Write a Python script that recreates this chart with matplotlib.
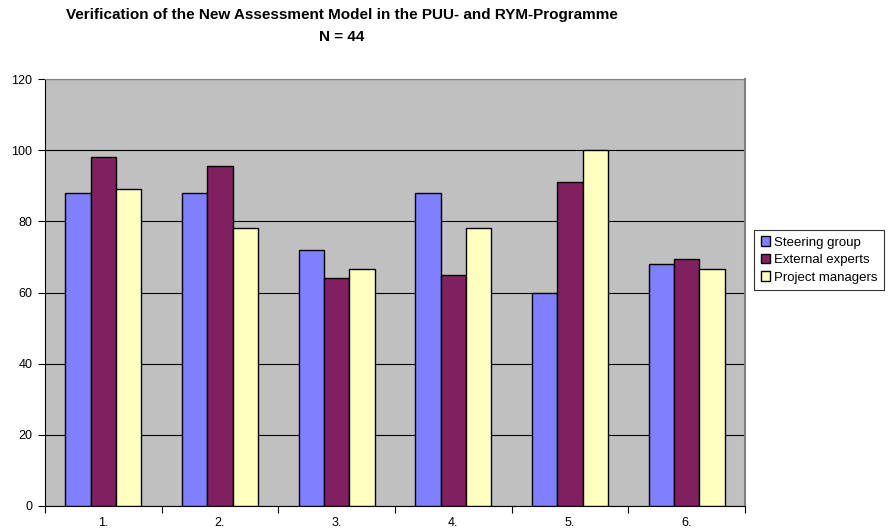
import matplotlib.pyplot as plt
import numpy as np

plt.rcParams['font.family'] = ['Liberation Sans', 'DejaVu Sans']

categories = ['1.', '2.', '3.', '4.', '5.', '6.']
steering = [88, 88, 72, 88, 60, 68]
external = [98, 95.5, 64, 65, 91, 69.5]
managers = [89, 78, 66.7, 78, 100, 66.7]
series_names = ['Steering group', 'External experts', 'Project managers']
colors = ['#8080FF', '#802060', '#FFFFC0']

fig = plt.figure(figsize=(8.95, 5.31), dpi=100)
ax = fig.add_axes([45 / 895, 25 / 531, 700 / 895, 427 / 531])
ax.set_facecolor('#C0C0C0')

x = np.arange(len(categories))
w = 0.217
for i, (vals, name, c) in enumerate(zip([steering, external, managers], series_names, colors)):
    ax.bar(x + (i - 1) * w, vals, w, color=c, edgecolor='black', linewidth=1.0,
           label=name, zorder=3)

ax.set_xlim(-0.5, len(categories) - 0.5)
ax.set_ylim(0, 120)
ax.set_yticks(range(0, 121, 20))
ax.yaxis.grid(True, color='black', linewidth=0.8, zorder=1)
ax.set_xticks(x)
ax.set_xticklabels(categories)
ax.set_xticks(np.arange(-0.5, len(categories), 1), minor=True)
ax.tick_params(axis='x', which='major', length=0, labelsize=9, pad=8)
ax.tick_params(axis='x', which='minor', length=5, direction='out', width=0.8)
ax.tick_params(axis='y', length=5, width=0.8, labelsize=9, pad=4)

ax.spines['left'].set_color('black')
ax.spines['bottom'].set_color('black')
ax.spines['top'].set_color('#808080')
ax.spines['right'].set_color('#808080')
ax.spines['right'].set_linewidth(1.5)

fig.text(342 / 895, 1 - 15 / 531, 'Verification of the New Assessment Model in the PUU- and RYM-Programme',
         ha='center', va='center', fontsize=11, fontweight='bold')
fig.text(342 / 895, 1 - 37 / 531, 'N = 44', ha='center', va='center', fontsize=11, fontweight='bold')

leg = fig.legend(loc='center left', bbox_to_anchor=(754 / 895, 1 - 260 / 531), fontsize=9.5,
                 frameon=True, fancybox=False, edgecolor='black', handlelength=0.7,
                 handleheight=0.7, handletextpad=0.3, borderpad=0.5, labelspacing=0.4,
                 borderaxespad=0)
leg.get_frame().set_linewidth(0.8)

plt.savefig('out.png', dpi=100)
